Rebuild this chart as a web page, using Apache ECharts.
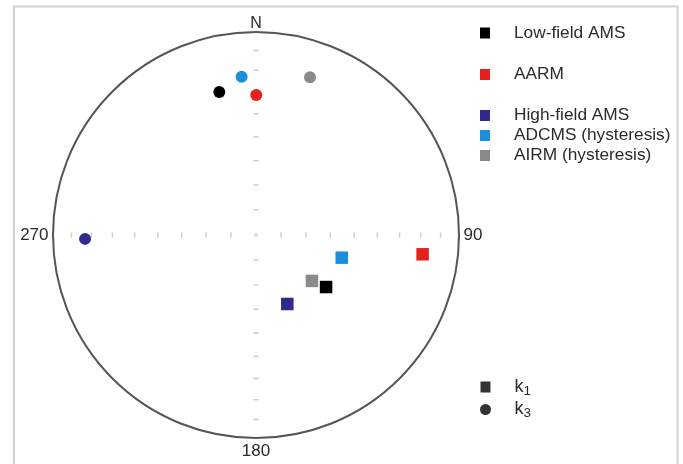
<!DOCTYPE html>
<html>
<head>
<meta charset="utf-8">
<script src="https://cdn.jsdelivr.net/npm/echarts@6/dist/echarts.min.js"></script>
<style>
html,body{margin:0;padding:0;background:#fff;}
#chart{width:683px;height:464px;}
</style>
</head>
<body>
<div id="chart"></div>
<script>
// Data (declination / inclination in degrees, equal-area lower hemisphere)
const methods = ['Low-field AMS', 'AARM', 'High-field AMS', 'ADCMS (hysteresis)', 'AIRM (hysteresis)'];
const colors = ['#000000', '#e4221d', '#2f2a8c', '#1b8fda', '#8a8a8a'];
const k1Dec = [126.6, 96.6, 155.6, 104.8, 129.4];
const k1Inc = [54.6, 18.5, 59.4, 54.0, 60.8];
const k3Dec = [345.6, 0.1, 268.7, 354.8, 18.9];
const k3Inc = [28.1, 31.6, 16.9, 22.8, 19.0];
const tickIncs = [80, 70, 60, 50, 40, 30, 20, 10];
const tickDirs = [0, 90, 180, 270];
const dirLabels = { 0: 'N', 90: '90', 180: '180', 270: '270' };
const axisNames = ['k1', 'k3'];

// Equal-area (Schmidt) projection radius, normalised to 1 at the primitive
function eqArea(inc) {
  return Math.SQRT2 * Math.sin((90 - inc) / 2 * Math.PI / 180);
}

const FONT = 'Liberation Sans, Arial, sans-serif';
const sqIcon = 'path://M0,0L10,0L10,11L0,11Z';
const circIcon = 'path://M5,0A5,5,0,1,1,5,10A5,5,0,1,1,5,0Z';

const series = [];
// tick marks on the two diameters
const tickNS = [], tickEW = [];
tickDirs.forEach(d => tickIncs.forEach(i => {
  (d % 180 === 0 ? tickNS : tickEW).push([eqArea(i), d]);
}));
series.push({
  type: 'scatter', coordinateSystem: 'polar', silent: true, z: 1,
  symbol: 'rect', symbolSize: [5, 1.5], itemStyle: { color: '#c0c0c0' }, data: tickNS
});
series.push({
  type: 'scatter', coordinateSystem: 'polar', silent: true, z: 1,
  symbol: 'rect', symbolSize: [1.5, 5], itemStyle: { color: '#c0c0c0' }, data: tickEW
});
series.push({
  type: 'scatter', coordinateSystem: 'polar', silent: true, z: 1,
  symbol: 'path://M2,0L3,0L3,2L5,2L5,3L3,3L3,5L2,5L2,3L0,3L0,2L2,2Z', symbolSize: 5,
  itemStyle: { color: '#bdbdbd' }, data: [[0, 0]]
});

// data series (drawn so Low-field ends on top)
for (let idx = methods.length - 1; idx >= 0; idx--) {
  series.push({
    name: methods[idx],
    type: 'scatter', coordinateSystem: 'polar', z: 5,
    itemStyle: { color: colors[idx], opacity: 1 },
    data: [
      { value: [eqArea(k1Inc[idx]), k1Dec[idx]], symbol: 'rect', symbolSize: 12.5 },
      { value: [eqArea(k3Inc[idx]), k3Dec[idx]], symbol: 'circle', symbolSize: 12 }
    ]
  });
}
// shape key series
series.push({ name: axisNames[0], type: 'scatter', coordinateSystem: 'polar', itemStyle: { color: '#000' }, data: [] });
series.push({ name: axisNames[1], type: 'scatter', coordinateSystem: 'polar', itemStyle: { color: '#000' }, data: [] });

const legendBase = {
  orient: 'vertical', left: 475, selectedMode: false,
  itemWidth: 48, itemHeight: 11,
  textStyle: { fontFamily: FONT, fontSize: 17.3, color: '#2a2a2a' }
};

const angleBase = {
  type: 'value', min: 0, max: 360, interval: 90, startAngle: 90, clockwise: true,
  axisTick: { show: false },
  splitLine: { show: false }
};

const option = {
  animation: false,
  backgroundColor: '#ffffff',
  graphic: [{
    type: 'rect', silent: true,
    shape: { x: 14, y: 6.5, width: 663.5, height: 520 },
    style: { fill: 'none', stroke: '#d2d2d2', lineWidth: 2 }
  }],
  polar: [
    { center: [256, 235], radius: 203 },
    { center: [256, 235], radius: 203 }
  ],
  angleAxis: [
    Object.assign({}, angleBase, {
      polarIndex: 0,
      axisLine: { show: true, lineStyle: { color: '#555555', width: 2 } },
      axisLabel: {
        show: true, margin: 4.5, fontFamily: FONT, fontSize: 17, color: '#2a2a2a',
        formatter: v => (v !== 0 && dirLabels[v] !== undefined) ? dirLabels[v] : ''
      }
    }),
    Object.assign({}, angleBase, {
      polarIndex: 1,
      axisLine: { show: false },
      axisLabel: {
        show: true, margin: 0, fontFamily: FONT, fontSize: 16, color: '#2a2a2a',
        formatter: v => v === 0 ? '{n|' + dirLabels[0] + '}' : '',
        rich: { n: { fontFamily: FONT, fontSize: 16, color: '#2a2a2a' } }
      }
    })
  ],
  radiusAxis: [
    { polarIndex: 0, type: 'value', min: 0, max: 1, show: false, axisLine: { show: false }, splitLine: { show: false }, axisLabel: { show: false }, axisTick: { show: false } },
    { polarIndex: 1, type: 'value', min: 0, max: 1, show: false, axisLine: { show: false }, splitLine: { show: false }, axisLabel: { show: false }, axisTick: { show: false } }
  ],
  legend: [
    Object.assign({}, legendBase, { top: 19.5, data: [{ name: methods[0], icon: sqIcon }] }),
    Object.assign({}, legendBase, { top: 61, data: [{ name: methods[1], icon: sqIcon }] }),
    Object.assign({}, legendBase, { top: 102, itemGap: 3, data: methods.slice(2).map(n => ({ name: n, icon: sqIcon })) }),
    Object.assign({}, legendBase, {
      top: 373, itemGap: 2.5,
      data: [{ name: axisNames[0], icon: sqIcon }, { name: axisNames[1], icon: circIcon }],
      formatter: n => '{k|k}{s|' + n.slice(1) + '}',
      textStyle: {
        fontFamily: FONT, fontSize: 18, color: '#2a2a2a',
        rich: {
          k: { fontFamily: FONT, fontSize: 18, color: '#2a2a2a' },
          s: { fontFamily: FONT, fontSize: 13.5, color: '#2a2a2a', padding: [8, 0, 0, 0] }
        }
      }
    })
  ],
  series: series
};

const chart = echarts.init(document.getElementById('chart'), null, { renderer: 'canvas' });
chart.setOption(option);
</script>
</body>
</html>
